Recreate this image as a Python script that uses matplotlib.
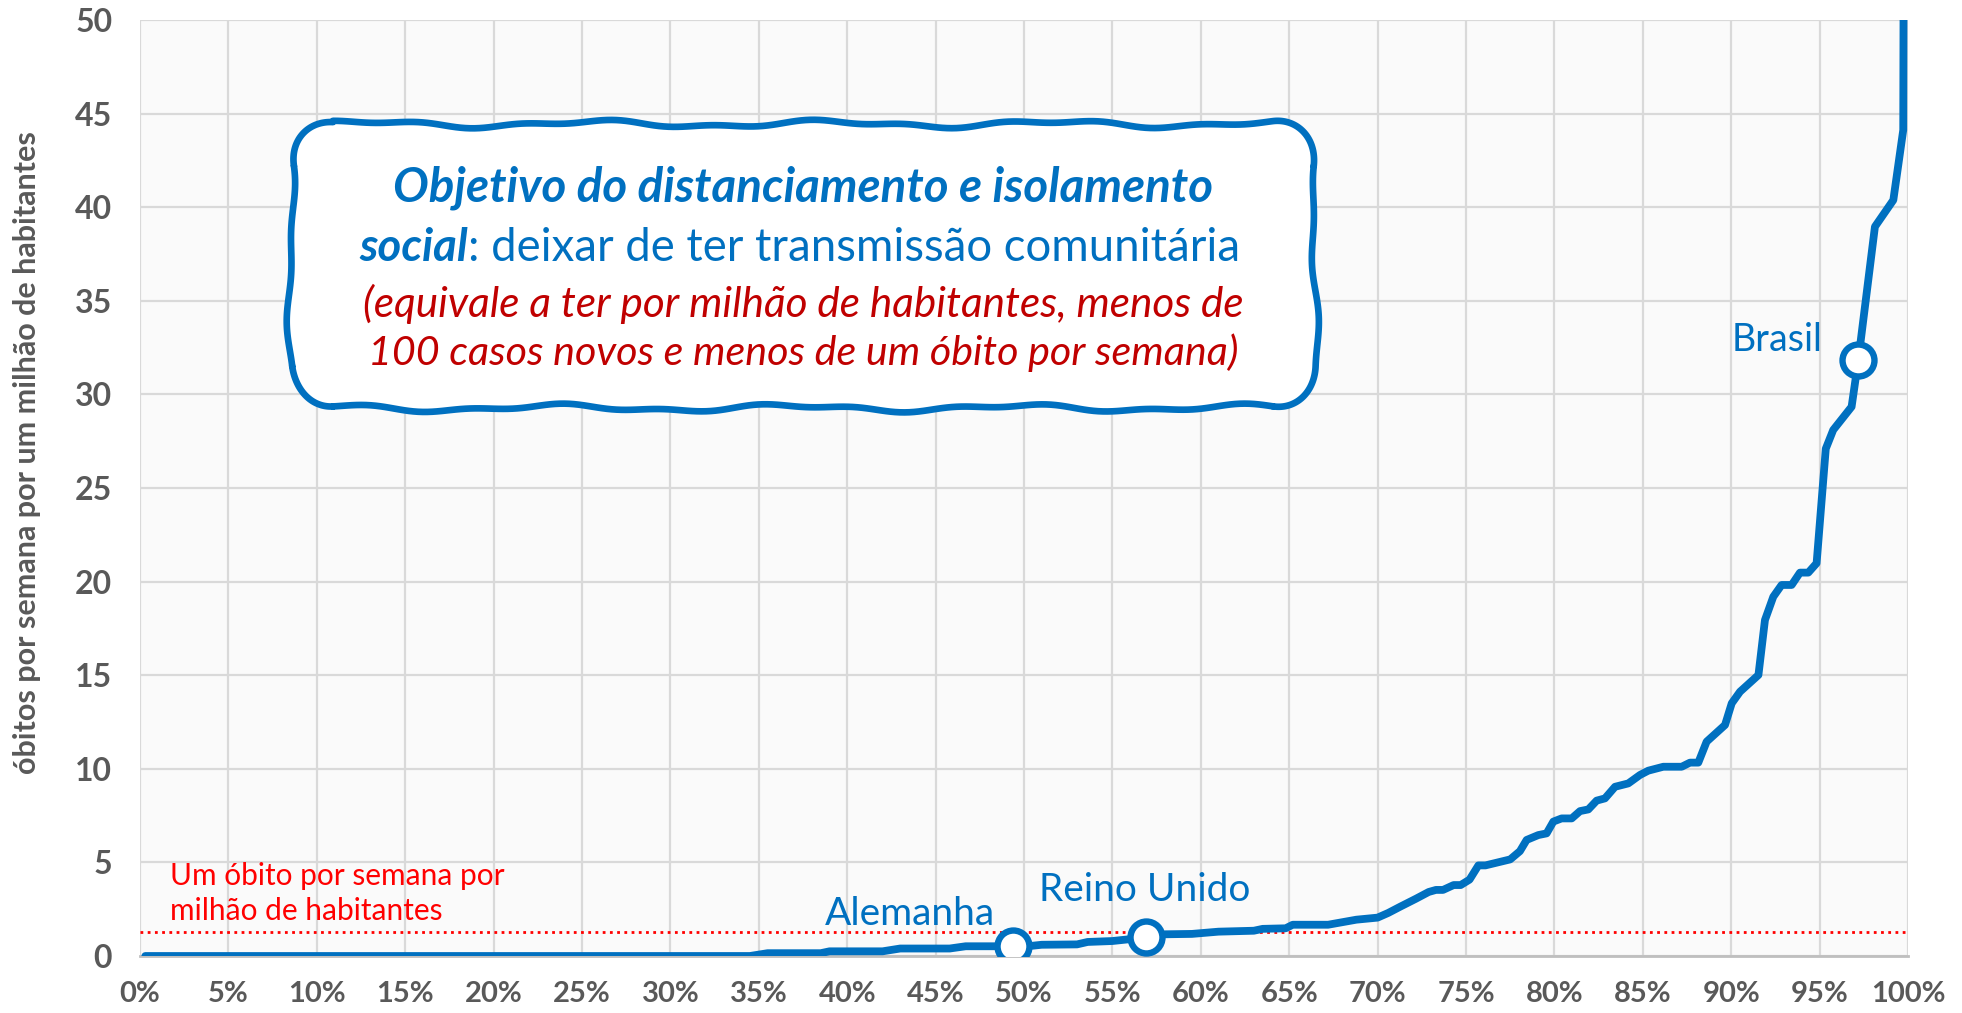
import matplotlib
matplotlib.use('Agg')
import matplotlib.pyplot as plt
import numpy as np
from matplotlib.path import Path
from matplotlib.patches import PathPatch

# ---------------- data ----------------
share_countries = [0.003, 0.345, 0.355, 0.385, 0.39, 0.42, 0.43, 0.458, 0.467, 0.4935,
                   0.505, 0.51, 0.53, 0.536, 0.55, 0.56, 0.569, 0.58, 0.595, 0.61,
                   0.63, 0.635, 0.648, 0.652, 0.672, 0.688, 0.700, 0.706, 0.7127, 0.7217,
                   0.7289, 0.733, 0.737, 0.743, 0.747, 0.752, 0.757, 0.761, 0.775, 0.7805,
                   0.7843, 0.7909, 0.7956, 0.7994, 0.8041, 0.8098, 0.8145, 0.8192, 0.8239, 0.8286,
                   0.8343, 0.8418, 0.8484, 0.8531, 0.8616, 0.8720, 0.8767, 0.8814, 0.8861, 0.8965,
                   0.9003, 0.9050, 0.9154, 0.9191, 0.9238, 0.9285, 0.9342, 0.9389, 0.9436, 0.9483,
                   0.9535, 0.9577, 0.9681, 0.9719, 0.9813, 0.9917, 0.9973, 0.9977]
deaths_per_million = [0.0, 0.0, 0.15, 0.15, 0.25, 0.25, 0.40, 0.40, 0.52, 0.52,
                      0.55, 0.60, 0.62, 0.75, 0.80, 0.90, 1.00, 1.16, 1.18, 1.30,
                      1.35, 1.45, 1.48, 1.67, 1.67, 1.94, 2.05, 2.30, 2.63, 3.06,
                      3.42, 3.53, 3.53, 3.79, 3.79, 4.08, 4.84, 4.84, 5.16, 5.60,
                      6.20, 6.46, 6.55, 7.18, 7.35, 7.35, 7.74, 7.83, 8.30, 8.42,
                      9.04, 9.22, 9.67, 9.90, 10.11, 10.11, 10.33, 10.33, 11.45, 12.34,
                      13.50, 14.12, 15.01, 17.95, 19.19, 19.82, 19.82, 20.48, 20.48, 20.98,
                      27.1, 28.1, 29.34, 31.84, 38.96, 40.38, 44.12, 60.0]

highlight_names = ['Alemanha', 'Reino Unido', 'Brasil']
highlight_share = [0.4935, 0.569, 0.9719]
highlight_deaths = [0.52, 1.00, 31.84]

threshold_value = 1.3
threshold_label = 'Um óbito por semana por\nmilhão de habitantes'

x_ticks = [i / 20 for i in range(21)]
x_tick_labels = ['0%', '5%', '10%', '15%', '20%', '25%', '30%', '35%', '40%', '45%', '50%',
                 '55%', '60%', '65%', '70%', '75%', '80%', '85%', '90%', '95%', '100%']
y_ticks = [0, 5, 10, 15, 20, 25, 30, 35, 40, 45, 50]
y_tick_labels = ['0', '5', '10', '15', '20', '25', '30', '35', '40', '45', '50']
y_label = 'óbitos por semana por um milhão de habitantes'

box_line1 = 'Objetivo do distanciamento e isolamento'
box_line2a = 'social'
box_line2b = ': deixar de ter transmissão comunitária'
box_line3 = '(equivale a ter por milhão de habitantes, menos de'
box_line4 = '100 casos novos e menos de um óbito por semana)'

# ---------------- style ----------------
BLUE = '#0070C0'
DARKRED = '#C00000'
GRAY = '#595959'
FONT = ['Lato', 'DejaVu Sans']
plt.rcParams['font.family'] = FONT

W, H = 1962, 1013
fig = plt.figure(figsize=(W / 100, H / 100), dpi=100)
L, R, T, B = 140, 1908, 20, 956
ax = fig.add_axes([L / W, 1 - B / H, (R - L) / W, (B - T) / H])
ax.set_facecolor('#FAFAFA')
ax.set_xlim(0, 1)
ax.set_ylim(0, 50)
ax.set_xticks(x_ticks)
ax.set_xticklabels(x_tick_labels)
ax.set_yticks(y_ticks)
ax.set_yticklabels(y_tick_labels)
ax.tick_params(length=0, labelcolor=GRAY)
ax.tick_params(axis='x', pad=18, labelsize=21)
ax.tick_params(axis='y', pad=20, labelsize=23)
for lab in ax.get_xticklabels() + ax.get_yticklabels():
    lab.set_fontweight('bold')
ax.grid(True, color='#D9D9D9', lw=1.6)
ax.set_axisbelow(True)
for s in ['top', 'left', 'right']:
    ax.spines[s].set_visible(False)
ax.spines['bottom'].set_color('#BFBFBF')
ax.spines['bottom'].set_linewidth(2)

# threshold line
ax.axhline(threshold_value, color='#FF0000', lw=2, linestyle=(0, (1, 1.6)), zorder=2)
ax.text(0.017, threshold_value + 0.35, threshold_label, color='#FF0000', fontsize=21.5,
        ha='left', va='bottom', linespacing=1.3, zorder=4)

# main curve
ax.plot(share_countries, deaths_per_million, color=BLUE, lw=5.6,
        solid_joinstyle='round', solid_capstyle='round', zorder=3)
ax.plot(highlight_share, highlight_deaths, 'o', ms=23, mfc='white', mec=BLUE, mew=4.6,
        zorder=5, linestyle='none')

# highlight labels
ax.text(highlight_share[0] - 0.058, highlight_deaths[0] + 0.75, highlight_names[0],
        color=BLUE, fontsize=28, ha='center', va='bottom', zorder=4)
ax.text(highlight_share[1] - 0.001, highlight_deaths[1] + 1.55, highlight_names[1],
        color=BLUE, fontsize=28, ha='center', va='bottom', zorder=4)
ax.text(highlight_share[2] - 0.046, highlight_deaths[2] + 0.1, highlight_names[2],
        color=BLUE, fontsize=27, ha='center', va='bottom', zorder=4)

# y label
fig.text(27 / W, 1 - 453 / H, y_label, rotation=90, ha='center', va='center',
         fontsize=22, fontweight='bold', color=GRAY)

# ---------------- wavy callout box ----------------
def rounded_rect(x0, y0, x1, y1, r):
    segs = []
    def arc(cx, cy, a0, a1):
        t = np.linspace(a0, a1, 60)
        return np.c_[cx + r * np.cos(t), cy + r * np.sin(t)]
    def line(p, q):
        t = np.linspace(0, 1, 200)[:, None]
        return p + (q - p) * t
    segs.append(line(np.array([x0 + r, y0]), np.array([x1 - r, y0])))
    segs.append(arc(x1 - r, y0 + r, -np.pi / 2, 0))
    segs.append(line(np.array([x1, y0 + r]), np.array([x1, y1 - r])))
    segs.append(arc(x1 - r, y1 - r, 0, np.pi / 2))
    segs.append(line(np.array([x1 - r, y1]), np.array([x0 + r, y1])))
    segs.append(arc(x0 + r, y1 - r, np.pi / 2, np.pi))
    segs.append(line(np.array([x0, y1 - r]), np.array([x0, y0 + r])))
    segs.append(arc(x0 + r, y0 + r, np.pi, 1.5 * np.pi))
    return np.vstack(segs)

pts = rounded_rect(291, 124, 1315, 408, 42)
d = np.r_[0, np.cumsum(np.hypot(*np.diff(pts, axis=0).T))]
tang = np.gradient(pts, axis=0)
tang /= np.hypot(tang[:, 0], tang[:, 1])[:, None] + 1e-9
normal = np.c_[tang[:, 1], -tang[:, 0]]
off = 2.8 * np.sin(2 * np.pi * d / 230 + 0.7) + 1.6 * np.sin(2 * np.pi * d / 97 + 2.1)
wp = pts + normal * off[:, None]
verts = np.c_[wp[:, 0] / W, 1 - wp[:, 1] / H]
verts = np.vstack([verts, verts[:1]])
codes = [Path.MOVETO] + [Path.LINETO] * (len(verts) - 2) + [Path.CLOSEPOLY]
box = PathPatch(Path(verts, codes), transform=fig.transFigure, facecolor='white',
                edgecolor=BLUE, lw=4.8, zorder=6, joinstyle='round')
fig.add_artist(box)

renderer = fig.canvas.get_renderer()
cx = 803 / W

def fit(txts, target):
    w = sum(t.get_window_extent(renderer).width for t in txts)
    for t in txts:
        t.set_fontsize(t.get_fontsize() * target / w)

t1 = fig.text(cx, 1 - 188 / H, box_line1, ha='center', va='center', fontsize=28,
              fontweight='bold', fontstyle='italic', color=BLUE, zorder=7)
fit([t1], 820)

t2a = fig.text(0, 1 - 248 / H, box_line2a, ha='left', va='center', fontsize=28,
               fontweight='bold', fontstyle='italic', color=BLUE, zorder=7)
t2b = fig.text(0, 1 - 248 / H, box_line2b, ha='left', va='center', fontsize=28,
               color=BLUE, zorder=7)
fit([t2a, t2b], 880)
w2a = t2a.get_window_extent(renderer).width
w2b = t2b.get_window_extent(renderer).width
start = 800 - (w2a + w2b) / 2
t2a.set_x(start / W)
t2b.set_x((start + w2a) / W)

t3 = fig.text(cx, 1 - 304 / H, box_line3, ha='center', va='center', fontsize=24,
              fontstyle='italic', color=DARKRED, zorder=7)
fit([t3], 880)
t4 = fig.text(cx, 1 - 353 / H, box_line4, ha='center', va='center', fontsize=24,
              fontstyle='italic', color=DARKRED, zorder=7)
fit([t4], 872)

fig.savefig('out.png', dpi=100, facecolor='white')
